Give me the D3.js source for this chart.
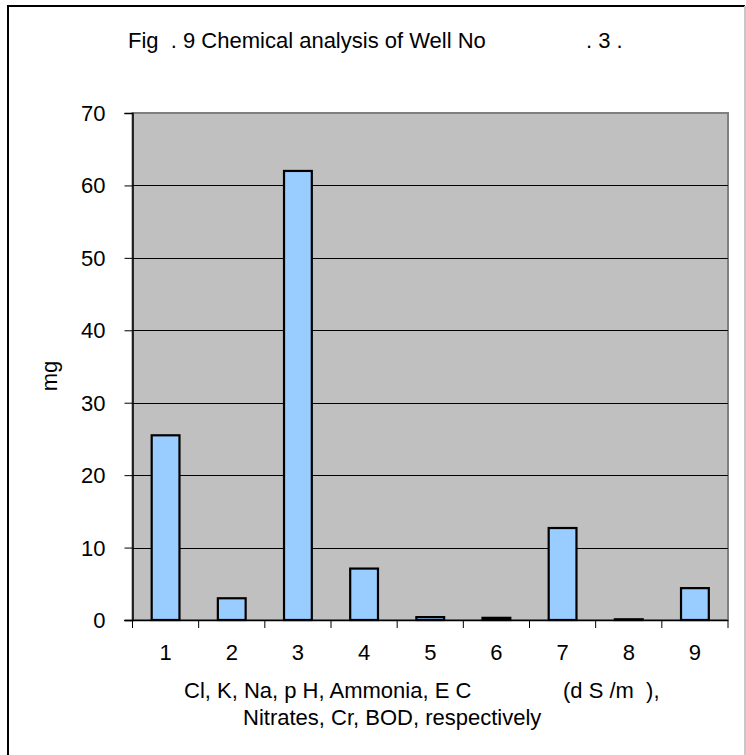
<!DOCTYPE html>
<html>
<head>
<meta charset="utf-8">
<script src="https://cdn.jsdelivr.net/npm/d3@7"></script>
<style>
  html, body { margin: 0; padding: 0; background: #fff; }
  svg { display: block; }
  text { font-family: "Liberation Sans", Arial, sans-serif; fill: #000; }
</style>
</head>
<body>
<svg id="chart" width="746" height="755"></svg>
<script>
// Chemical parameters of well No. 3 (index 1..9)
const categories = ["1", "2", "3", "4", "5", "6", "7", "8", "9"];
const values = [25.5, 3.0, 62.0, 7.1, 0.4, 0.3, 12.7, 0.1, 4.4];
const yTicks = [0, 10, 20, 30, 40, 50, 60, 70];

// title and axis titles, split where the original text has wide gaps
const titleParts = ["Fig  . 9 Chemical analysis of Well No", ". 3 ."];
const xTitleLine1 = ["Cl, K, Na, p H, Ammonia, E C", "(d S /m  ),"];
const xTitleLine2 = "Nitrates, Cr, BOD, respectively";
const yTitle = "mg";

const FS = 22;

const svg = d3.select("#chart");

function label(parent, x, y, str, anchor) {
  return parent.append("text")
    .attr("x", x).attr("y", y)
    .attr("text-anchor", anchor || "start")
    .attr("xml:space", "preserve").style("white-space", "pre")
    .style("font-size", FS + "px")
    .text(str);
}

// outer frame
svg.append("path")
  .attr("d", "M8,766V6H745")
  .attr("fill", "none").attr("stroke", "#000").attr("stroke-width", 2);
svg.append("line")
  .attr("x1", 745).attr("x2", 745).attr("y1", 6).attr("y2", 766)
  .attr("stroke", "#c8c8c8").attr("stroke-width", 2);

const plot = { left: 132.5, right: 728, top: 113, bottom: 620 };

const x = d3.scaleBand()
  .domain(categories)
  .range([plot.left, plot.right])
  .paddingInner(0.58).paddingOuter(0.29);
const band = d3.scaleBand().domain(categories).range([plot.left, plot.right]);

const y = d3.scaleLinear().domain([0, 70]).range([plot.bottom, plot.top]);

// plot background
svg.append("rect")
  .attr("x", plot.left).attr("y", plot.top)
  .attr("width", plot.right - plot.left).attr("height", plot.bottom - plot.top)
  .attr("fill", "#c0c0c0").attr("stroke", "#808080").attr("stroke-width", 2);

// gridlines
svg.append("g").selectAll("line")
  .data(yTicks.filter(d => d > 0 && d < 70))
  .join("line")
  .attr("x1", plot.left).attr("x2", plot.right)
  .attr("y1", d => Math.round(y(d)) + 0.5).attr("y2", d => Math.round(y(d)) + 0.5)
  .attr("stroke", "#000").attr("stroke-width", 1);

// bars
svg.append("g").selectAll("rect")
  .data(values)
  .join("rect")
  .attr("x", (d, i) => x(categories[i]))
  .attr("width", x.bandwidth())
  .attr("y", d => y(d))
  .attr("height", d => y(0) - y(d))
  .attr("fill", "#99ccff")
  .attr("stroke", "#000").attr("stroke-width", 2.2);

// y axis
const yAxis = d3.axisLeft(y).tickValues(yTicks).tickSize(8).tickPadding(19).tickFormat(d3.format("d"));
const gy = svg.append("g").attr("transform", `translate(${plot.left},0)`).call(yAxis);
gy.attr("font-family", null).attr("font-size", null);
gy.select(".domain").attr("stroke", "#000").attr("stroke-width", 1.5);
gy.selectAll(".tick line").attr("stroke", "#000");
gy.selectAll(".tick text").style("font-size", FS + "px").attr("dy", "0.34em");

// x axis: ticks between categories
const gx = svg.append("g").attr("transform", `translate(0,${plot.bottom})`);
gx.append("line")
  .attr("x1", plot.left - 8).attr("x2", plot.right)
  .attr("y1", 0.5).attr("y2", 0.5)
  .attr("stroke", "#000").attr("stroke-width", 1.5);
const bounds = categories.map(c => band(c)).concat([plot.right]);
gx.selectAll("line.tk")
  .data(bounds)
  .join("line").attr("class", "tk")
  .attr("x1", d => d).attr("x2", d => d)
  .attr("y1", 0).attr("y2", 8)
  .attr("stroke", "#000");
categories.forEach(c => label(svg, band(c) + band.bandwidth() / 2, 660, c, "middle"));

// title
const t = label(svg, 128, 48, "");
t.append("tspan").attr("x", 128).text(titleParts[0]);
t.append("tspan").attr("x", 586).text(titleParts[1]);

// x-axis title
const l1 = label(svg, 184, 698, "");
l1.append("tspan").attr("x", 184).text(xTitleLine1[0]);
l1.append("tspan").attr("x", 563).text(xTitleLine1[1]);
label(svg, 243, 725, xTitleLine2);

// y-axis title
svg.append("text")
  .attr("transform", "translate(57,376) rotate(-90)")
  .attr("text-anchor", "middle")
  .style("font-size", FS + "px")
  .text(yTitle);
</script>
</body>
</html>
